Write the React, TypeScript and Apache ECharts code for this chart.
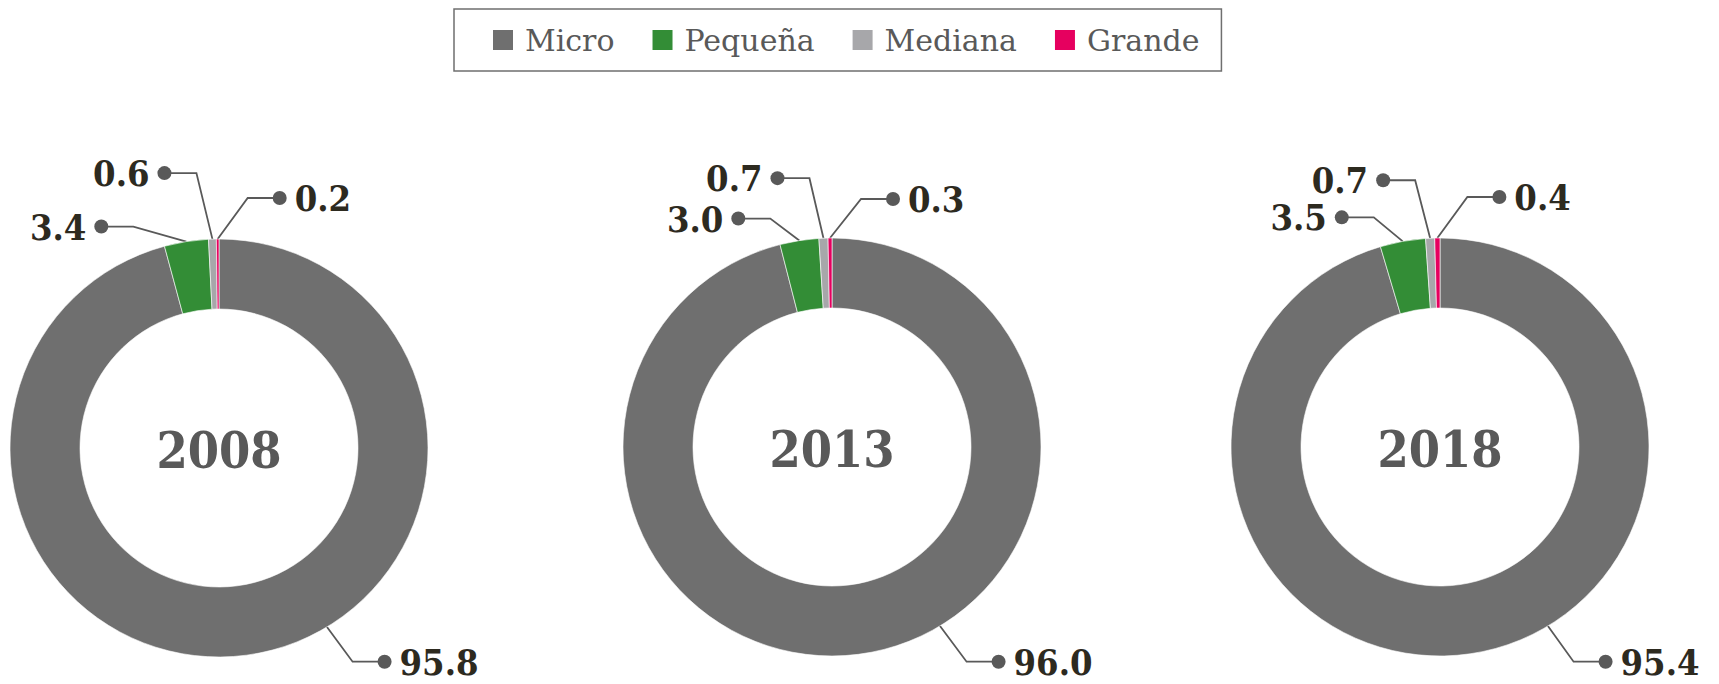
import React, { useEffect, useRef } from "react";
import * as echarts from "echarts";

const CATEGORIES = ["Micro", "Pequeña", "Mediana", "Grande"];
const YEARS = ["2008", "2013", "2018"];
const VALUES_2008 = [95.8, 3.4, 0.6, 0.2];
const VALUES_2013 = [96.0, 3.0, 0.7, 0.3];
const VALUES_2018 = [95.4, 3.5, 0.7, 0.4];
const SERIES_VALUES = [VALUES_2008, VALUES_2013, VALUES_2018];

const COLORS = ["#6f6f6f", "#338d36", "#a7a7aa", "#e6005f"];

// layout (style) settings
const CENTERS: [number, number][] = [
  [219, 448],
  [832, 447],
  [1440, 447],
];
const R_OUT = 209;
const R_IN = 139;
const LABEL_FONT = "'DejaVu Serif Condensed', 'DejaVu Serif', serif";
const SIDE = [1, -1, -1, 1];
// label guide offsets: [anchorAngleDeg | null, elbowDx, elbowDy]
const GUIDES: [number | null, number, number][][] = [
  [[149, 28, 38], [null, -53, -15], [null, -16, -66], [null, 30, -41]],
  [[149, 29, 39], [null, -29, -22], [null, -14, -60], [null, 31, -39]],
  [[149, 28, 39], [null, -29, -24], [null, -15, -58], [null, 30, -41]],
];
const HLEN = 32;
const DOT_R = 7;

export default function App() {
  const ref = useRef<HTMLDivElement>(null);

  useEffect(() => {
    if (!ref.current) return;
    const chart = echarts.init(ref.current, null, { renderer: "svg" });

    const labelLayout = (params: any) => {
      const s = params.seriesIndex;
      const d = params.dataIndex;
      const g = GUIDES[s] && GUIDES[s][d];
      if (!g) return {};
      const [cx, cy] = CENTERS[s];
      let ax: number, ay: number;
      if (g[0] != null) {
        const a = (g[0] * Math.PI) / 180;
        ax = cx + (R_OUT - 4) * Math.sin(a);
        ay = cy - (R_OUT - 4) * Math.cos(a);
      } else if (params.labelLinePoints && params.labelLinePoints[0]) {
        ax = params.labelLinePoints[0][0];
        ay = params.labelLinePoints[0][1];
      } else {
        return {};
      }
      const side = SIDE[d];
      const ex = ax + g[1];
      const ey = ay + g[2];
      const dx = ex + side * HLEN;
      return {
        x: dx - side * DOT_R,
        y: ey,
        align: side > 0 ? "left" : "right",
        verticalAlign: "middle",
        labelLinePoints: [
          [ax, ay],
          [ex, ey],
          [dx, ey],
        ],
      };
    };

    const series = SERIES_VALUES.map((vals, si) => ({
      type: "pie",
      name: YEARS[si],
      center: CENTERS[si],
      radius: [R_IN, R_OUT],
      startAngle: 90,
      clockwise: true,
      avoidLabelOverlap: false,
      emphasis: { disabled: true },
      itemStyle: { borderColor: "#ffffff", borderWidth: 0.6 },
      label: {
        show: true,
        position: "outside",
        formatter: (p: any) => {
          const v = Number(p.value).toFixed(1);
          return SIDE[p.dataIndex] > 0 ? `{dot|}{vr|${v}}` : `{vl|${v}}{dot|}`;
        },
        rich: {
          dot: {
            width: DOT_R * 2,
            height: DOT_R * 2,
            borderRadius: DOT_R,
            backgroundColor: "#595959",
          },
          vr: {
            fontFamily: LABEL_FONT,
            fontWeight: "bold",
            fontSize: 36,
            lineHeight: 36,
            color: "#2d2a1f",
            padding: [0, 0, 0, 8],
          },
          vl: {
            fontFamily: LABEL_FONT,
            fontWeight: "bold",
            fontSize: 36,
            lineHeight: 36,
            color: "#2d2a1f",
            padding: [0, 8, 0, 0],
          },
        },
      },
      labelLine: {
        show: true,
        length: 10,
        length2: 10,
        smooth: false,
        lineStyle: { color: "#595959", width: 1.8 },
      },
      labelLayout,
      data: CATEGORIES.map((c, i) => ({
        name: c,
        value: vals[i],
        itemStyle: { color: COLORS[i] },
      })),
    }));

    chart.setOption({
      animation: false,
      color: COLORS,
      legend: {
        show: true,
        data: CATEGORIES,
        left: 454,
        top: 9,
        orient: "horizontal",
        icon: "rect",
        itemWidth: 22,
        itemHeight: 22,
        itemGap: 36,
        borderColor: "#6f6f6f",
        borderWidth: 1.5,
        padding: [16, 22, 16, 37],
        selectedMode: false,
        textStyle: {
          fontFamily: "'DejaVu Serif', serif",
          fontSize: 30,
          color: "#595959",
          padding: [0, 0, 0, 6],
        },
      },
      graphic: YEARS.map((y, i) => ({
        type: "text",
        x: CENTERS[i][0],
        y: CENTERS[i][1] + 2,
        style: {
          text: y,
          fontFamily: LABEL_FONT,
          fontWeight: "bold",
          fontSize: 50,
          fill: "#595959",
          align: "center",
          verticalAlign: "middle",
        },
      })),
      series,
    });

    return () => chart.dispose();
  }, []);

  return (
    <div
      ref={ref}
      style={{ position: "absolute", left: 0, top: 0, width: 1719, height: 684, background: "#fff" }}
    />
  );
}
